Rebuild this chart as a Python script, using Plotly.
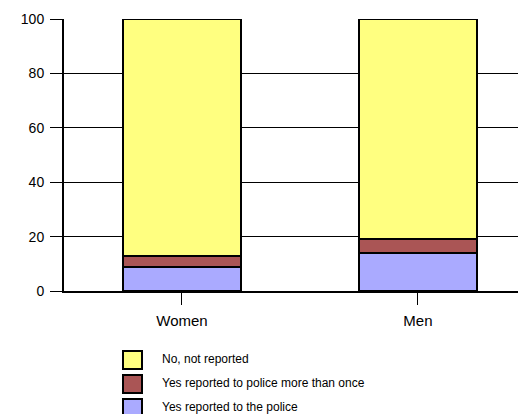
import plotly.graph_objs as go

groups = ["Women", "Men"]
reported_police = [9, 14]
reported_more_than_once = [4, 5]
not_reported = [87, 81]

series = [
    ("Yes reported to the police", reported_police, "#AAAAFF"),
    ("Yes reported to police more than once", reported_more_than_once, "#AA5555"),
    ("No, not reported", not_reported, "#FFFF80"),
]

# plot area in screen pixels (page body adds an 8px margin)
PL, PT, PW, PH = 64, 19, 462, 272


def px(x):
    return (x - PL) / PW


def py(y):
    return (PT + PH - y) / PH


fig = go.Figure()
for name, vals, color in series:
    fig.add_trace(go.Bar(
        x=groups, y=vals, name=name, width=0.5, showlegend=False,
        marker=dict(color=color, line=dict(color="black", width=2)),
    ))

# legend drawn by hand: it runs off the bottom of the page like the original
for k, (name, vals, color) in enumerate(reversed(series)):
    cy = 360 + 24 * k
    fig.add_shape(type="rect", xref="paper", yref="paper",
                  x0=px(123), x1=px(142), y0=py(cy + 9), y1=py(cy - 9),
                  fillcolor=color, line=dict(color="black", width=2))
    fig.add_annotation(xref="paper", yref="paper", x=px(160), y=py(cy - 1),
                       xanchor="left", yanchor="middle", showarrow=False,
                       text=name, font=dict(size=12))

fig.update_layout(
    barmode="stack",
    width=518, height=406,
    margin=dict(l=56, r=0, t=11, b=123),
    plot_bgcolor="white", paper_bgcolor="white",
    font=dict(family="Liberation Sans, Arial, sans-serif", color="black", size=13),
)
fig.update_yaxes(
    range=[0, 100], tickvals=[0, 20, 40, 60, 80, 100],
    showgrid=True, gridcolor="black", gridwidth=1,
    showline=True, linecolor="black", linewidth=2,
    ticks="outside", ticklen=12, tickcolor="black", tickwidth=1,
    ticklabelstandoff=3, tickfont=dict(size=14),
    zeroline=False,
)
fig.update_xaxes(
    range=[-0.5, 1.458],
    showline=True, linecolor="black", linewidth=2,
    ticks="outside", ticklen=12, tickcolor="black", tickwidth=1,
    ticklabelstandoff=3,
    tickfont=dict(size=15),
)

fig.write_html("out.html")
